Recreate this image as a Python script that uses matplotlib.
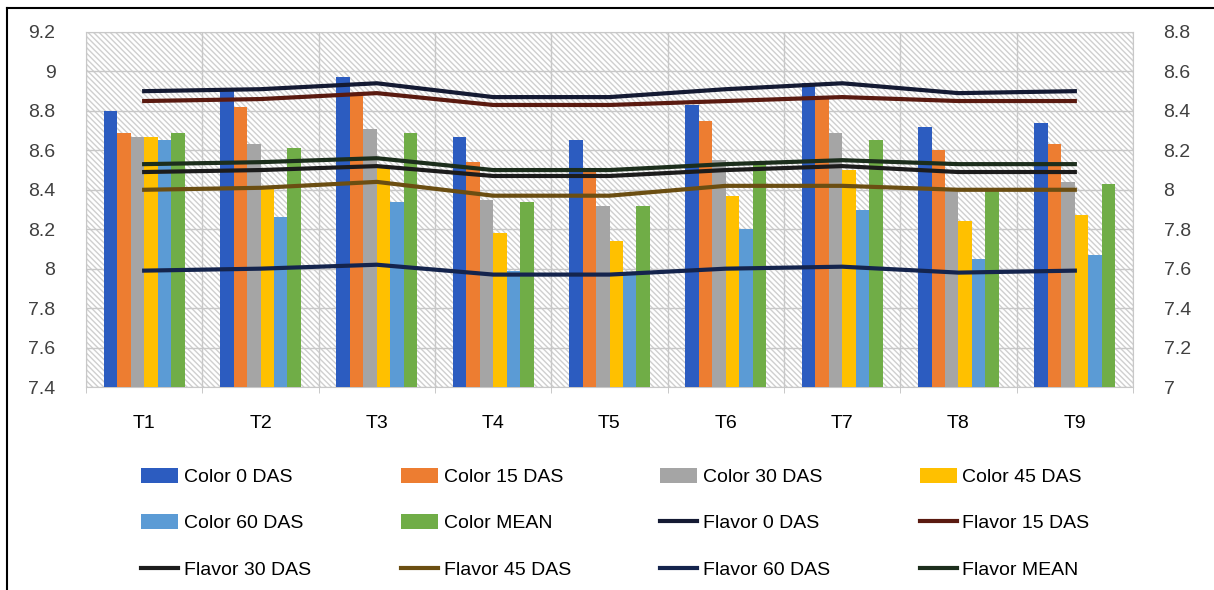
import numpy as np
import matplotlib.pyplot as plt
from matplotlib.lines import Line2D

plt.rcParams['font.family'] = ['Liberation Sans Narrow', 'Liberation Sans', 'DejaVu Sans']

categories = ['T1', 'T2', 'T3', 'T4', 'T5', 'T6', 'T7', 'T8', 'T9']

# Color scores (left axis)
color_0 = [8.80, 8.91, 8.97, 8.67, 8.65, 8.83, 8.94, 8.72, 8.74]
color_15 = [8.69, 8.82, 8.88, 8.54, 8.50, 8.75, 8.86, 8.60, 8.63]
color_30 = [8.67, 8.63, 8.71, 8.35, 8.32, 8.55, 8.69, 8.41, 8.44]
color_45 = [8.67, 8.41, 8.51, 8.18, 8.14, 8.37, 8.50, 8.24, 8.27]
color_60 = [8.65, 8.26, 8.34, 7.99, 7.98, 8.20, 8.30, 8.05, 8.07]
color_mean = [8.69, 8.61, 8.69, 8.34, 8.32, 8.53, 8.65, 8.40, 8.43]

# Flavor scores (right axis)
flavor_0 = [8.50, 8.51, 8.54, 8.47, 8.47, 8.51, 8.54, 8.49, 8.50]
flavor_15 = [8.45, 8.46, 8.49, 8.43, 8.43, 8.45, 8.47, 8.45, 8.45]
flavor_30 = [8.09, 8.10, 8.12, 8.07, 8.07, 8.10, 8.12, 8.09, 8.09]
flavor_45 = [8.00, 8.01, 8.04, 7.97, 7.97, 8.02, 8.02, 8.00, 8.00]
flavor_60 = [7.59, 7.60, 7.62, 7.57, 7.57, 7.60, 7.61, 7.58, 7.59]
flavor_mean = [8.13, 8.14, 8.16, 8.10, 8.10, 8.13, 8.15, 8.13, 8.13]

bar_series = [
    ('Color 0 DAS', color_0, '#2c5cc0'),
    ('Color 15 DAS', color_15, '#ed7d31'),
    ('Color 30 DAS', color_30, '#a5a5a5'),
    ('Color 45 DAS', color_45, '#ffc000'),
    ('Color 60 DAS', color_60, '#5b9bd5'),
    ('Color MEAN', color_mean, '#70ad47'),
]
line_series = [
    ('Flavor 0 DAS', flavor_0, '#141a33'),
    ('Flavor 15 DAS', flavor_15, '#5a1a10'),
    ('Flavor 30 DAS', flavor_30, '#1c1c1c'),
    ('Flavor 45 DAS', flavor_45, '#6b4e12'),
    ('Flavor 60 DAS', flavor_60, '#14244d'),
    ('Flavor MEAN', flavor_mean, '#1c2e1c'),
]

fig = plt.figure(figsize=(12.14, 5.9), dpi=100)
ax = fig.add_axes([86 / 1214, 1 - 387 / 590, (1133 - 86) / 1214, (387 - 32) / 590])

x = np.arange(len(categories))
w = 0.116
handles = []
for i, (name, vals, col) in enumerate(bar_series):
    h = ax.bar(x + (i - 2.5) * w, np.array(vals) - 7.4, w, bottom=7.4,
               color=col, label=name, zorder=3)
    handles.append(h)

ax.set_xlim(-0.5, len(categories) - 0.5)
ax.set_ylim(7.4, 9.2)
ax.set_yticks(np.arange(7.4, 9.21, 0.2))
ax.set_yticklabels([f'{v:g}' for v in np.round(np.arange(7.4, 9.21, 0.2), 1)])
ax.set_xticks(x)
ax.set_xticklabels(categories)
ax.set_xticks(np.arange(-0.5, len(categories), 1), minor=True)
ax.tick_params(axis='x', which='major', length=0, pad=20, labelsize=14)
ax.tick_params(axis='x', which='minor', length=4, color='#bfbfbf')
ax.tick_params(axis='y', length=0, labelsize=14, pad=22, colors='#404040')

# hatched background and grid
ax.add_patch(plt.Rectangle((0, 0), 1, 1, transform=ax.transAxes, facecolor='white',
                           edgecolor='#cfcfcf', hatch='\\\\\\\\\\\\', lw=0, zorder=0))
ax.grid(True, axis='y', color='#c8c8c8', lw=1, zorder=1)
ax.grid(True, axis='x', which='minor', color='#c8c8c8', lw=1, zorder=1)
for s in ax.spines.values():
    s.set_color('#c8c8c8')

ax2 = ax.twinx()
for name, vals, col in line_series:
    h, = ax2.plot(x, vals, color=col, lw=3, label=name, zorder=4)
    handles.append(h)
ax2.set_ylim(7.0, 8.8)
ax2.set_yticks(np.arange(7.0, 8.81, 0.2))
ax2.set_yticklabels([f'{v:g}' for v in np.round(np.arange(7.0, 8.81, 0.2), 1)])
ax2.tick_params(axis='y', length=0, labelsize=14, pad=22, colors='#404040')
for s in ax2.spines.values():
    s.set_visible(False)

# legend, filled row by row
order = [r * 4 + c for c in range(4) for r in range(3)]
fig.legend([handles[i] for i in order], [handles[i].get_label() for i in order],
           ncol=4, loc='center', bbox_to_anchor=(0.507, 0.113), frameon=False,
           fontsize=14, handlelength=1.9, handleheight=0.8, columnspacing=4.6,
           handletextpad=0.3, labelspacing=1.45)

# border
fig.add_artist(Line2D([7 / 1214, 7 / 1214], [0, 1 - 8 / 590], color='black', lw=1.5))
fig.add_artist(Line2D([7 / 1214, 1], [1 - 8 / 590, 1 - 8 / 590], color='black', lw=1.5))

fig.savefig('out.png', dpi=100)
